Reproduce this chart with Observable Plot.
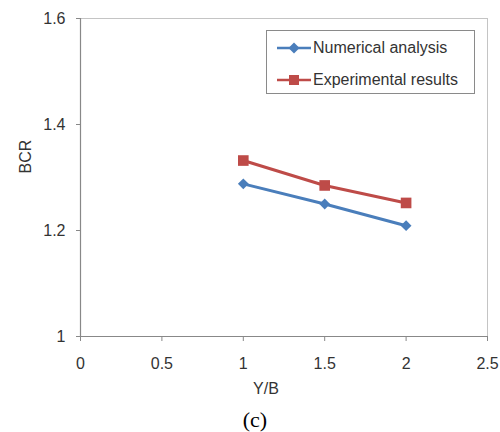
<!DOCTYPE html>
<html>
<head>
<meta charset="utf-8">
<script src="https://cdn.jsdelivr.net/npm/d3@7"></script>
<script src="https://cdn.jsdelivr.net/npm/@observablehq/plot@0.6"></script>
<style>
  body { margin: 0; background: #fff; }
  #wrap { position: relative; width: 500px; height: 432px; font-family: "Liberation Sans", Arial, sans-serif; }
  #legend { position: absolute; left: 266px; top: 30px; width: 207px; height: 62px; border: 1px solid #8a8a8a; background: #fff; }
  .row { position: absolute; left: 10px; height: 20px; display: flex; align-items: center; font-size: 16px; color: #333; }
  .row svg { margin-right: 2px; }
  #caption { position: absolute; left: 0; top: 407px; width: 510px; text-align: center; font-family: "Liberation Serif", "Times New Roman", serif; font-size: 22px; color: #000; }
</style>
</head>
<body>
<div id="wrap"><div id="chart"></div><div id="legend"></div><div id="caption">(c)</div></div>
<script>
const xValues = [1, 1.5, 2];
const numerical = [1.288, 1.250, 1.209];
const experimental = [1.332, 1.285, 1.252];
const seriesNames = ["Numerical analysis", "Experimental results"];
const seriesColors = ["#4A7EBB", "#BE4B48"];
const xTicks = [0, 0.5, 1, 1.5, 2, 2.5];
const yTicks = [1, 1.2, 1.4, 1.6];

const data = [];
xValues.forEach((x, i) => {
  data.push({series: seriesNames[0], x, y: numerical[i]});
  data.push({series: seriesNames[1], x, y: experimental[i]});
});

const diamond = {
  draw(context, size) {
    const h = Math.sqrt(size / 2);
    context.moveTo(0, -h); context.lineTo(h, 0); context.lineTo(0, h); context.lineTo(-h, 0); context.closePath();
  }
};

const fmt = d => String(d);
const chart = Plot.plot({
  width: 500,
  height: 404,
  marginTop: 18,
  marginBottom: 68,
  marginLeft: 80,
  marginRight: 13,
  style: {fontFamily: "Liberation Sans, Arial, sans-serif", fontSize: "16px", color: "#333"},
  x: {domain: [0, 2.5]},
  y: {domain: [1, 1.6]},
  marks: [
    Plot.frame({stroke: "#c4c4c4"}),
    Plot.axisY(yTicks, {tickSize: 4, tickPadding: 11, tickFormat: fmt, label: null, stroke: "#888", fill: "#333", fontSize: 16}),
    Plot.axisX(xTicks, {tickSize: 5, tickPadding: 16, tickFormat: fmt, label: null, stroke: "#888", fill: "#333", fontSize: 16}),
    Plot.ruleX([0], {stroke: "#888", strokeWidth: 1.2}),
    Plot.ruleY([1], {stroke: "#888", strokeWidth: 1.2}),
    Plot.line(data.filter(d => d.series === seriesNames[0]), {x: "x", y: "y", stroke: seriesColors[0], strokeWidth: 3}),
    Plot.line(data.filter(d => d.series === seriesNames[1]), {x: "x", y: "y", stroke: seriesColors[1], strokeWidth: 3}),
    Plot.dot(data.filter(d => d.series === seriesNames[0]), {x: "x", y: "y", symbol: diamond, r: 4.3, fill: seriesColors[0], stroke: "none"}),
    Plot.dot(data.filter(d => d.series === seriesNames[1]), {x: "x", y: "y", symbol: "square", r: 6, fill: seriesColors[1], stroke: "none"}),
    Plot.text(["Y/B"], {text: d => d, frameAnchor: "bottom", dx: -18, dy: 57, fontSize: 16, fill: "#333"}),
    Plot.text(["BCR"], {text: d => d, frameAnchor: "left", rotate: -90, dx: -55, dy: -4, fontSize: 16, fill: "#333"})
  ]
});
document.getElementById("chart").appendChild(chart);

const legend = document.getElementById("legend");
seriesNames.forEach((name, i) => {
  const row = document.createElement("div");
  row.className = "row";
  row.style.top = (i === 0 ? 7 : 39) + "px";
  const sym = i === 0
    ? `<polygon points="17,4.5 22.5,10 17,15.5 11.5,10" fill="${seriesColors[0]}"/>`
    : `<rect x="12" y="5" width="10" height="10" fill="${seriesColors[1]}"/>`;
  row.innerHTML = `<svg width="34" height="20"><line x1="0" y1="10" x2="34" y2="10" stroke="${seriesColors[i]}" stroke-width="2.5"/>${sym}</svg><span>${name}</span>`;
  legend.appendChild(row);
});
</script>
</body>
</html>
